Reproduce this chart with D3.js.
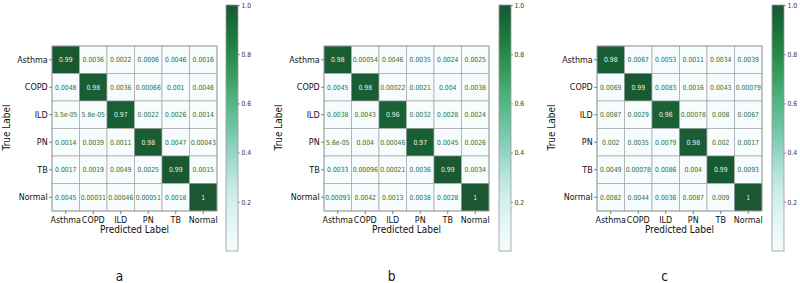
<!DOCTYPE html>
<html lang="en">
<head>
    <meta charset="UTF-8">
    <title>Confusion Matrices</title>
    <script src="https://cdnjs.cloudflare.com/ajax/libs/d3/7.8.5/d3.min.js"></script>
    <style>
        body {
            margin: 0;
            padding: 0;
            background: #fff;
            font-family: "DejaVu Sans", sans-serif;
        }
        svg { display: block; }
    </style>
</head>
<body>
    <svg width="800" height="283"></svg>
    <script>
        const classes = ["Asthma", "COPD", "ILD", "PN", "TB", "Normal"];
        const cbTicks = [0.2, 0.4, 0.6, 0.8, 1.0];

        const matrixA = [
            [0.99, 0.0036, 0.0022, 0.0006, 0.0046, 0.0016],
            [0.0048, 0.98, 0.0036, 0.00066, 0.001, 0.0046],
            [3.5e-05, 5.8e-05, 0.97, 0.0022, 0.0026, 0.0014],
            [0.0014, 0.0039, 0.0011, 0.98, 0.0047, 0.00043],
            [0.0017, 0.0019, 0.0049, 0.0025, 0.99, 0.0015],
            [0.0045, 0.00031, 0.00046, 0.00051, 0.0018, 1]
        ];
        const matrixB = [
            [0.98, 0.00054, 0.0046, 0.0035, 0.0024, 0.0025],
            [0.0045, 0.98, 0.00022, 0.0021, 0.004, 0.0038],
            [0.0038, 0.0043, 0.96, 0.0032, 0.0028, 0.0024],
            [5.6e-05, 0.004, 0.00046, 0.97, 0.0045, 0.0026],
            [0.0033, 0.00096, 0.00021, 0.0036, 0.99, 0.0034],
            [0.00093, 0.0042, 0.0013, 0.0038, 0.0028, 1]
        ];
        const matrixC = [
            [0.98, 0.0067, 0.0053, 0.0011, 0.0034, 0.0039],
            [0.0069, 0.99, 0.0083, 0.0016, 0.0043, 0.00079],
            [0.0087, 0.0029, 0.96, 0.00078, 0.008, 0.0067],
            [0.002, 0.0035, 0.0079, 0.98, 0.002, 0.0017],
            [0.0049, 0.00078, 0.0086, 0.004, 0.99, 0.0093],
            [0.0082, 0.0044, 0.0036, 0.0087, 0.009, 1]
        ];

        const panels = [
            { letter: "a", m: matrixA, hx: 52, cbx: 226 },
            { letter: "b", m: matrixB, hx: 324, cbx: 499 },
            { letter: "c", m: matrixC, hx: 597, cbx: 772 }
        ];

        const hy = 46, hsize = 165;
        const cbTop = 5, cbBottom = 251, cbW = 12;
        const squeeze = 0.87; // text in the picture runs narrower than DejaVu
        // BuGn, a touch lighter at the dark end like the picture
        const cmap = t => d3.interpolateRgb(d3.interpolateBuGn(t), "#ffffff")(0.1 * t);

        // python-ish ".2g"
        function fmt(v) {
            if (v < 1e-4) {
                return v.toExponential(1).replace(/e-(\d)$/, "e-0$1");
            }
            return String(Number(v.toPrecision(2)));
        }

        const svg = d3.select("svg");
        const defs = svg.append("defs");
        const grad = defs.append("linearGradient")
            .attr("id", "cbgrad")
            .attr("x1", 0).attr("y1", 1).attr("x2", 0).attr("y2", 0);
        d3.range(0, 1.0001, 0.05).forEach(t => {
            grad.append("stop").attr("offset", t).attr("stop-color", cmap(t));
        });

        panels.forEach(p => {
            const g = svg.append("g");
            const x = d3.scaleBand().domain(classes).range([p.hx, p.hx + hsize]);
            const y = d3.scaleBand().domain(classes).range([hy, hy + hsize]);

            const cells = [];
            p.m.forEach((row, i) => row.forEach((v, j) => cells.push({ r: classes[i], c: classes[j], v })));

            g.selectAll("rect.cell")
                .data(cells)
                .enter().append("rect")
                .attr("class", "cell")
                .attr("x", d => x(d.c))
                .attr("y", d => y(d.r))
                .attr("width", x.bandwidth())
                .attr("height", y.bandwidth())
                .attr("fill", d => cmap(d.v))
                .attr("stroke", "#9a9a9a")
                .attr("stroke-width", 0.6);

            g.selectAll("text.val")
                .data(cells)
                .enter().append("text")
                .attr("transform", d => `translate(${x(d.c) + x.bandwidth() / 2},${y(d.r) + y.bandwidth() / 2}) scale(${squeeze},1)`)
                .attr("dy", "0.35em")
                .attr("text-anchor", "middle")
                .attr("font-size", 7)
                .attr("fill", d => d.v > 0.5 ? "#e6efe6" : "#2f6e35")
                .text(d => fmt(d.v));

            // frame
            g.append("rect")
                .attr("x", p.hx).attr("y", hy)
                .attr("width", hsize).attr("height", hsize)
                .attr("fill", "none")
                .attr("stroke", "#9a9a9a")
                .attr("stroke-width", 0.8);

            const xAxis = g.append("g")
                .attr("transform", `translate(0,${hy + hsize})`)
                .call(d3.axisBottom(x).tickSize(3).tickPadding(2));
            const yAxis = g.append("g")
                .attr("transform", `translate(${p.hx},0)`)
                .call(d3.axisLeft(y).tickSize(3).tickPadding(2));
            [xAxis, yAxis].forEach(a => {
                a.select(".domain").remove();
                a.selectAll("line").attr("stroke", "#333").attr("stroke-width", 0.6);
                a.selectAll("text").attr("font-size", 9.2).attr("fill", "#111")
                    .attr("font-family", "DejaVu Sans")
                    .attr("transform", `scale(${squeeze},1)`);
            });

            g.append("text")
                .attr("transform", `translate(${p.hx + hsize / 2},233) scale(${squeeze},1)`)
                .attr("text-anchor", "middle")
                .attr("font-size", 10.3)
                .attr("fill", "#111")
                .text("Predicted Label");

            g.append("text")
                .attr("transform", `translate(${p.hx - 42},${hy + hsize / 2 - 1}) rotate(-90) scale(${squeeze},1)`)
                .attr("text-anchor", "middle")
                .attr("font-size", 10.3)
                .attr("fill", "#111")
                .text("True Label");

            // colorbar
            const cy = d3.scaleLinear().domain([0, 1]).range([cbBottom, cbTop]);
            g.append("rect")
                .attr("x", p.cbx).attr("y", cbTop)
                .attr("width", cbW).attr("height", cbBottom - cbTop)
                .attr("fill", "url(#cbgrad)")
                .attr("stroke", "#999")
                .attr("stroke-width", 0.8);
            const cAxis = g.append("g")
                .attr("transform", `translate(${p.cbx + cbW},0)`)
                .call(d3.axisRight(cy).tickValues(cbTicks).tickFormat(d3.format(".1f")).tickSize(2).tickPadding(2));
            cAxis.select(".domain").remove();
            cAxis.selectAll("line").attr("stroke", "#555").attr("stroke-width", 0.6);
            cAxis.selectAll("text").attr("font-size", 7).attr("fill", "#333")
                .attr("font-family", "DejaVu Sans")
                .attr("transform", `scale(${squeeze},1)`);

            g.append("text")
                .attr("transform", `translate(${p.hx + hsize / 2 - 15},281) scale(${squeeze},1)`)
                .attr("text-anchor", "middle")
                .attr("font-size", 14)
                .attr("fill", "#111")
                .text(p.letter);
        });
    </script>
</body>
</html>
